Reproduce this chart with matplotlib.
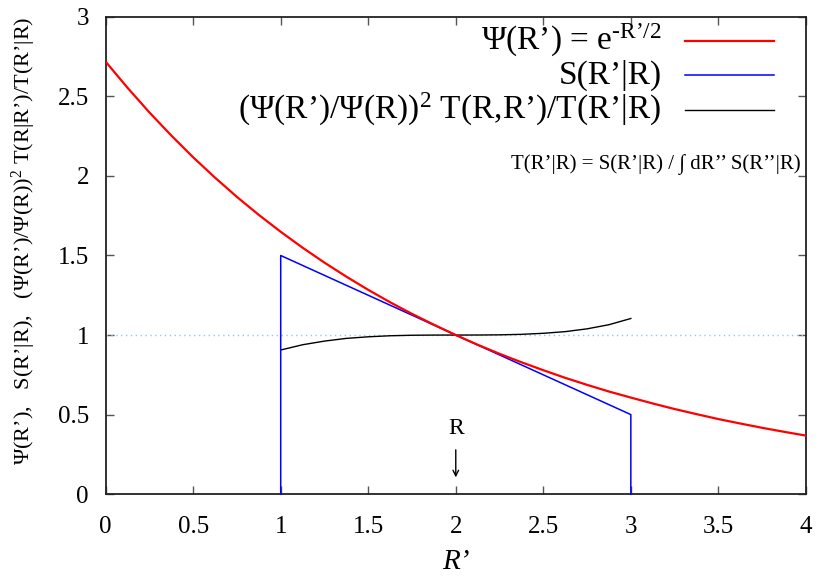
import numpy as np
import matplotlib.pyplot as plt
from matplotlib.lines import Line2D

plt.rcParams['font.family'] = ['Liberation Serif', 'DejaVu Serif']
plt.rcParams['mathtext.fontset'] = 'custom'
plt.rcParams['mathtext.rm'] = 'Liberation Serif'
plt.rcParams['mathtext.it'] = 'Liberation Serif:italic'

# trial wave function psi(R')
psi_x = [0, 0.125, 0.25, 0.375, 0.5, 0.625, 0.75, 0.875, 1, 1.125, 1.25, 1.375, 1.5, 1.625,
         1.75, 1.875, 2, 2.125, 2.25, 2.375, 2.5, 2.625, 2.75, 2.875, 3, 3.125, 3.25, 3.375,
         3.5, 3.625, 3.75, 3.875, 4]
psi_y = [2.718, 2.554, 2.399, 2.254, 2.117, 1.989, 1.868, 1.755, 1.649, 1.549, 1.455, 1.367,
         1.284, 1.206, 1.133, 1.065, 1.0, 0.939, 0.882, 0.829, 0.779, 0.731, 0.687, 0.645,
         0.607, 0.570, 0.535, 0.503, 0.472, 0.444, 0.417, 0.392, 0.368]

# proposal S(R'|R), triangular around R = 2
s_x = [1, 1, 3, 3]
s_y = [0, 1.5, 0.5, 0]

# acceptance ratio
acc_x = [1, 1.125, 1.25, 1.375, 1.5, 1.625, 1.75, 1.875, 2, 2.125, 2.25, 2.375, 2.5, 2.625,
         2.75, 2.875, 3]
acc_y = [0.906, 0.939, 0.962, 0.979, 0.989, 0.9955, 0.9987, 0.9998, 1.0, 1.0002, 1.0013,
         1.0045, 1.011, 1.0214, 1.039, 1.065, 1.104]

R0 = 2
ref_level = 1

xticks = [0, 0.5, 1, 1.5, 2, 2.5, 3, 3.5, 4]
yticks = [0, 0.5, 1, 1.5, 2, 2.5, 3]

q = '\u2019'
labels = ['\u03a8(R%s) = e$^{\\text{-R%s/2}}$' % (q, q),
          'S(R%s|R)' % q,
          '(\u03a8(R%s)/\u03a8(R))$^{2}$ T(R,R%s)/T(R%s|R)' % (q, q, q)]
colors = ['#ff0000', '#0000ff', '#000000']
widths = [1.6, 1.1, 1.0]

fig = plt.figure(figsize=(8.19, 5.8), dpi=100)
ax = fig.add_axes([0.129, 0.148, 0.855, 0.823])
ax.set_axisbelow(True)

ax.axhline(ref_level, color='#9cc6e0', lw=1.0, ls=(0, (1, 2.5)), zorder=1)
ax.plot(psi_x, psi_y, color=colors[0], lw=widths[0], zorder=3)
ax.plot(s_x, s_y, color=colors[1], lw=widths[1], zorder=2.6, clip_on=False)
ax.plot(acc_x, acc_y, color=colors[2], lw=widths[2], zorder=2)

# marker for the current position R
ax.annotate('', xy=(R0, 0.088), xytext=(R0, 0.296),
            arrowprops=dict(arrowstyle='->', color='black', lw=1.0, mutation_scale=10))
ax.text(R0, 0.345, 'R', ha='center', va='bottom', fontsize=17)

# key, gnuplot style: right-justified text with sample line to its right
rows = [0.950, 0.878, 0.805]
for lab, c, w, yy in zip(labels, colors, widths, rows):
    ax.text(0.794, yy, lab, transform=ax.transAxes, ha='right', va='center', fontsize=24)
    ax.add_line(Line2D([0.827, 0.954], [yy, yy], transform=ax.transAxes, color=c, lw=w))

ax.text(0.993, 0.69, 'T(R%s|R) = S(R%s|R) / \u222b dR%s%s S(R%s%s|R)' % (q, q, q, q, q, q),
        transform=ax.transAxes, ha='right', va='center', fontsize=15)

ax.set_xlim(0, 4)
ax.set_ylim(0, 3)
ax.set_xticks(xticks)
ax.set_yticks(yticks)
ax.set_xticklabels(['%g' % t for t in xticks])
ax.set_yticklabels(['%g' % t for t in yticks])
ax.tick_params(direction='in', length=6, width=1, color='#555555', labelsize=18,
               top=True, right=True)
ax.tick_params(axis='x', pad=16)
ax.tick_params(axis='y', pad=12)
for sp in ax.spines.values():
    sp.set_color('#222222')
    sp.set_linewidth(1.3)

ax.set_xlabel('R%s' % q, fontsize=21, style='italic', labelpad=8)
ax.set_ylabel('\u03a8(R%s),   S(R%s|R),   (\u03a8(R%s)/\u03a8(R))$^{2}$ T(R|R%s)/T(R%s|R)' % (q, q, q, q, q),
              fontsize=16)
ax.yaxis.set_label_coords(-0.097, 0.53)

fig.savefig('out.png', dpi=100)
